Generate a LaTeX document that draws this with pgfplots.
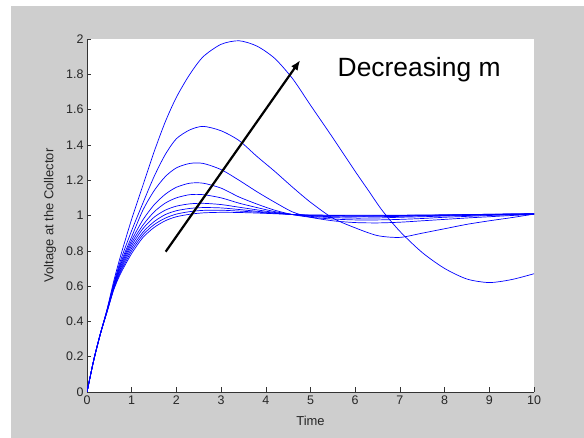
\documentclass[border=0pt]{standalone}
\usepackage{pgfplots}
\pgfplotsset{compat=1.18}
\usepackage{fontspec}
\setmainfont{Liberation Sans}
\usetikzlibrary{arrows.meta}
\definecolor{figgray}{HTML}{CECECE}
\definecolor{trace}{RGB}{0,0,255}
\tikzset{curve/.style={trace, line width=0.7pt, smooth, tension=0.45, mark=none}}

\begin{document}
\begin{tikzpicture}
% figure frame: white strip left/top, grey figure area
\path[use as bounding box] (0bp,0bp) rectangle (584bp,438bp);
\fill[white] (0bp,0bp) rectangle (584bp,438bp);
\fill[figgray] (11bp,0bp) rectangle (584bp,432bp);
\begin{axis}[
    at={(87bp,46bp)}, anchor=south west,
    width=447bp, height=353bp, scale only axis,
    xmin=0, xmax=10, ymin=0, ymax=2,
    axis lines=left,
    axis line style={-, black!80, line width=0.6pt},
    axis background/.style={fill=white},
    tick align=inside,
    major tick length=4.5bp,
    tick style={black!80, line width=0.6pt},
    xtick={0,1,2,3,4,5,6,7,8,9,10},
    ytick={0,0.2,0.4,0.6,0.8,1,1.2,1.4,1.6,1.8,2},
    /pgf/number format/assume math mode=true,
    tick label style={font=\fontsize{12.5}{14}\selectfont, text=black!85},
    yticklabel style={/pgf/number format/fixed, /pgf/number format/precision=1},
    xlabel={Time}, ylabel={Voltage at the Collector},
    every axis x label/.style={at={(axis description cs:0.5,-0.081)}, anchor=center,
        font=\fontsize{13}{15}\selectfont, text=black!85},
    every axis y label/.style={at={(axis description cs:-0.083,0.5)}, rotate=90, anchor=center,
        font=\fontsize{13}{15}\selectfont, text=black!85},
]
% largest overshoot
\addplot[curve] coordinates {(0,0) (0.15,0.18) (0.3,0.33) (0.45,0.47) (0.6,0.63) (0.75,0.77) (1.0,0.98) (1.25,1.17) (1.5,1.36) (1.75,1.53) (2.0,1.67) (2.3,1.80) (2.6,1.90) (3.0,1.97) (3.4,1.99) (3.8,1.96) (4.2,1.89) (4.6,1.775) (5.0,1.625) (5.5,1.44) (6.0,1.25) (6.3,1.14) (6.6,1.03) (7.0,0.91) (7.5,0.79) (8.0,0.70) (8.5,0.64) (9.0,0.62) (9.5,0.637) (10,0.67)};
\addplot[curve] coordinates {(0,0) (0.15,0.18) (0.3,0.33) (0.45,0.467) (0.6,0.615) (0.75,0.745) (1.0,0.915) (1.25,1.07) (1.5,1.22) (1.75,1.345) (2.0,1.435) (2.3,1.485) (2.6,1.505) (3.0,1.48) (3.4,1.425) (3.8,1.335) (4.2,1.25) (4.6,1.16) (5.0,1.075) (5.5,0.985) (6.0,0.93) (6.5,0.886) (7.0,0.876) (7.5,0.90) (8.0,0.925) (8.5,0.95) (9.0,0.97) (9.5,0.988) (10,1.008)};
\addplot[curve] coordinates {(0,0) (0.15,0.18) (0.3,0.33) (0.45,0.465) (0.6,0.61) (0.75,0.73) (1.0,0.88) (1.25,1.03) (1.5,1.14) (1.75,1.22) (2.0,1.27) (2.3,1.295) (2.6,1.295) (3.0,1.26) (3.4,1.20) (3.8,1.135) (4.2,1.075) (4.6,1.02) (5.0,0.99) (5.5,0.97) (6.0,0.96) (6.5,0.958) (7.0,0.962) (7.5,0.97) (8.0,0.978) (8.5,0.986) (9.0,0.993) (9.5,1.0) (10,1.006)};
\addplot[curve] coordinates {(0,0) (0.15,0.18) (0.3,0.33) (0.45,0.463) (0.6,0.605) (0.75,0.72) (1.0,0.86) (1.25,0.975) (1.5,1.06) (1.75,1.12) (2.0,1.16) (2.3,1.183) (2.6,1.183) (3.0,1.155) (3.4,1.105) (3.8,1.065) (4.2,1.03) (4.6,1.005) (5.0,0.99) (5.5,0.98) (6.0,0.975) (6.5,0.975) (7.0,0.978) (7.5,0.983) (8.0,0.99) (8.5,0.995) (9.0,1.0) (9.5,1.004) (10,1.008)};
\addplot[curve] coordinates {(0,0) (0.15,0.18) (0.3,0.33) (0.45,0.461) (0.6,0.60) (0.75,0.71) (1.0,0.845) (1.25,0.945) (1.5,1.02) (1.75,1.07) (2.0,1.10) (2.3,1.118) (2.6,1.118) (3.0,1.10) (3.4,1.07) (3.8,1.045) (4.2,1.022) (4.6,1.005) (5.0,0.995) (5.5,0.988) (6.0,0.985) (6.5,0.986) (7.0,0.99) (7.5,0.993) (8.0,0.997) (9.0,1.003) (10,1.008)};
\addplot[curve] coordinates {(0,0) (0.15,0.18) (0.3,0.33) (0.45,0.459) (0.6,0.595) (0.75,0.70) (1.0,0.83) (1.25,0.925) (1.5,0.99) (1.75,1.03) (2.0,1.053) (2.3,1.066) (2.6,1.069) (3.0,1.062) (3.4,1.047) (3.8,1.032) (4.2,1.017) (4.6,1.005) (5.0,0.998) (5.5,0.993) (6.0,0.992) (7.0,0.995) (8.0,1.0) (9.0,1.005) (10,1.009)};
\addplot[curve] coordinates {(0,0) (0.15,0.18) (0.3,0.33) (0.45,0.458) (0.6,0.59) (0.75,0.69) (1.0,0.815) (1.25,0.905) (1.5,0.965) (1.75,1.005) (2.0,1.027) (2.3,1.04) (2.6,1.045) (3.0,1.043) (3.4,1.034) (3.8,1.024) (4.2,1.014) (4.6,1.006) (5.0,1.0) (5.5,0.997) (6.0,0.996) (7.0,0.998) (8.0,1.002) (9.0,1.006) (10,1.01)};
\addplot[curve] coordinates {(0,0) (0.15,0.18) (0.3,0.33) (0.45,0.456) (0.6,0.585) (0.75,0.68) (1.0,0.80) (1.25,0.89) (1.5,0.948) (1.75,0.985) (2.0,1.008) (2.3,1.022) (2.6,1.029) (3.0,1.03) (3.4,1.025) (3.8,1.019) (4.2,1.012) (4.6,1.006) (5.0,1.002) (6.0,0.999) (7.0,1.0) (8.0,1.003) (9.0,1.007) (10,1.01)};
\addplot[curve] coordinates {(0,0) (0.15,0.18) (0.3,0.33) (0.45,0.455) (0.6,0.58) (0.75,0.67) (1.0,0.785) (1.25,0.875) (1.5,0.932) (1.75,0.97) (2.0,0.993) (2.3,1.007) (2.6,1.015) (3.0,1.018) (3.4,1.017) (3.8,1.014) (4.2,1.01) (4.6,1.006) (5.0,1.003) (6.0,1.001) (7.0,1.002) (8.0,1.004) (9.0,1.007) (10,1.01)};

\draw[black, line width=2.2bp, -{Latex[length=10bp,width=8bp]}]
    (axis cs:1.76,0.795) -- (axis cs:4.77,1.88);
\node[font=\fontsize{26.5}{30}\selectfont] at (axis cs:7.43,1.824) {Decreasing m};
\end{axis}
\end{tikzpicture}
\end{document}
